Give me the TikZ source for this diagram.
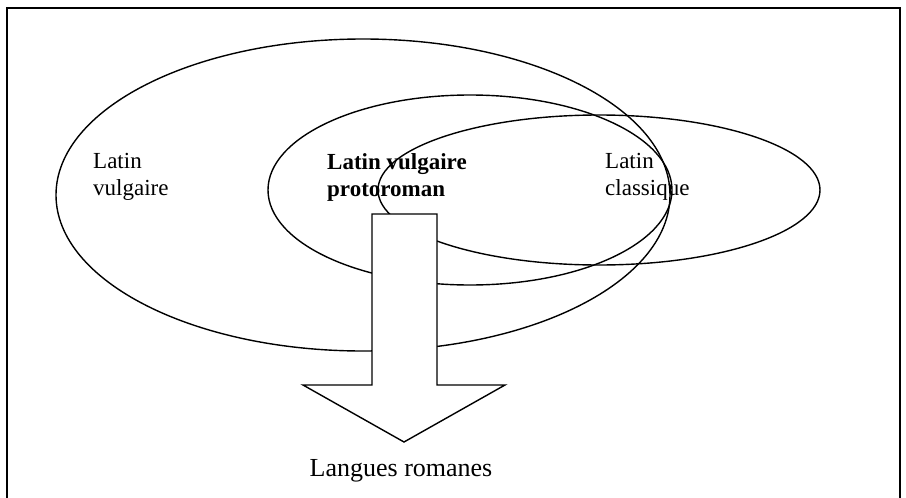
\documentclass[tikz,border=0pt]{standalone}
\usepackage{fontspec}
\setmainfont{Liberation Serif}
\usetikzlibrary{shapes.geometric}
\begin{document}
\begin{tikzpicture}[x=1pt,y=-1pt,
  ell/.style={draw, ellipse, line width=1.4pt, inner sep=0pt},
  lbl/.style={align=left, font=\fontsize{23}{27}\selectfont, inner sep=0pt, anchor=north west},
  bigarrow/.style={draw, fill=white, line width=1.4pt, line join=miter},
  frameline/.style={line width=1.5pt}]
\useasboundingbox (0,0) rectangle (906,498);
\draw[frameline] (7,498) -- (7,8) -- (900,8) -- (900,498);
% labels
\node[lbl] (lv) at (93,153) {Latin\\vulgaire};
\node[lbl, font=\fontsize{23}{27}\selectfont\bfseries] (lvp) at (327,153) {Latin vulgaire\\protoroman};
\node[lbl] (lc) at (605,153) {Latin\\classique};
% ellipses
\node[ell, minimum width=614pt, minimum height=312pt] (evulg) at (363,195) {};
\node[ell, minimum width=404pt, minimum height=190pt] (eproto) at (470,190) {};
\node[ell, minimum width=442pt, minimum height=150pt] (eclass) at (599,190) {};
% arrow
\coordinate (tip) at (404,442);
\draw[bigarrow] (372,214) -- (437,214) -- (437,385) -- (505,385) -- (tip) -- (303,385) -- (372,385) -- cycle;
\node[font=\fontsize{26}{30}\selectfont, inner sep=0pt, anchor=north] (lr) at (401,459) {Langues romanes};
\end{tikzpicture}
\end{document}
